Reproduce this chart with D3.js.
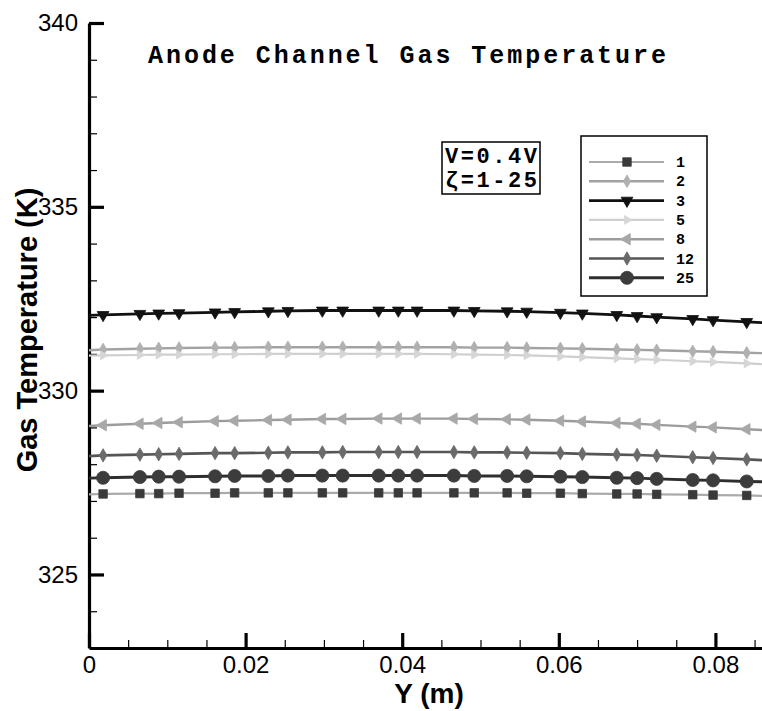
<!DOCTYPE html>
<html>
<head>
<meta charset="utf-8">
<script src="https://cdn.jsdelivr.net/npm/d3@7"></script>
<style>
  html, body { margin: 0; padding: 0; background: #fff; }
  svg { display: block; }
</style>
</head>
<body>
<svg id="chart" width="762" height="711"></svg>
<script>
// Distance along the anode channel, Y (m)
const channelY = [0, 0.0018, 0.0065, 0.0089, 0.0115, 0.0161, 0.0186, 0.0229, 0.0254, 0.0298,
  0.0324, 0.0370, 0.0395, 0.0419, 0.0466, 0.0492, 0.0534, 0.0559, 0.0602, 0.0630,
  0.0674, 0.0700, 0.0725, 0.0771, 0.0797, 0.0840, 0.0860];

// Gas temperature (K) for each stoichiometry ζ
const temp1 = [327.18, 327.19, 327.20, 327.20, 327.21, 327.21, 327.22, 327.22, 327.22, 327.22,
  327.22, 327.22, 327.22, 327.22, 327.22, 327.22, 327.22, 327.21, 327.21, 327.20,
  327.19, 327.19, 327.18, 327.17, 327.16, 327.15, 327.14];
const temp2 = [331.10, 331.12, 331.14, 331.15, 331.16, 331.17, 331.17, 331.18, 331.18, 331.18,
  331.18, 331.18, 331.18, 331.18, 331.18, 331.17, 331.17, 331.16, 331.15, 331.14,
  331.12, 331.11, 331.10, 331.07, 331.06, 331.03, 331.02];
const temp3 = [332.05, 332.06, 332.09, 332.10, 332.11, 332.13, 332.14, 332.16, 332.17, 332.18,
  332.18, 332.18, 332.18, 332.18, 332.18, 332.17, 332.16, 332.15, 332.12, 332.10,
  332.06, 332.03, 332.00, 331.95, 331.92, 331.87, 331.85];
const temp5 = [330.95, 330.96, 330.97, 330.98, 330.98, 330.99, 330.99, 331.00, 331.00, 331.00,
  331.00, 331.00, 331.00, 331.00, 330.99, 330.98, 330.97, 330.96, 330.93, 330.91,
  330.88, 330.86, 330.84, 330.80, 330.78, 330.74, 330.72];
const temp8 = [329.04, 329.06, 329.10, 329.12, 329.14, 329.17, 329.18, 329.20, 329.21, 329.23,
  329.23, 329.24, 329.24, 329.24, 329.24, 329.23, 329.22, 329.21, 329.18, 329.16,
  329.12, 329.10, 329.07, 329.02, 329.00, 328.95, 328.93];
const temp12 = [328.22, 328.24, 328.26, 328.27, 328.28, 328.30, 328.30, 328.31, 328.32, 328.32,
  328.33, 328.33, 328.33, 328.33, 328.33, 328.32, 328.32, 328.31, 328.30, 328.28,
  328.26, 328.25, 328.23, 328.19, 328.17, 328.13, 328.11];
const temp25 = [327.62, 327.63, 327.65, 327.66, 327.66, 327.67, 327.68, 327.68, 327.69, 327.69,
  327.69, 327.69, 327.69, 327.69, 327.69, 327.68, 327.68, 327.67, 327.66, 327.65,
  327.63, 327.62, 327.60, 327.57, 327.56, 327.53, 327.52];

const seriesLabels = ["1", "2", "3", "5", "8", "12", "25"];
const seriesTemps = [temp1, temp2, temp3, temp5, temp8, temp12, temp25];

const xMajorTicks = [0, 0.02, 0.04, 0.06, 0.08];
const xTickLabels = ["0", "0.02", "0.04", "0.06", "0.08"];
const yMajorTicks = [325, 330, 335, 340];
const yTickLabels = ["325", "330", "335", "340"];

const titleText = "Anode Channel Gas Temperature";
const xTitle = "Y (m)";
const yTitle = "Gas Temperature (K)";
const noteLines = ["V=0.4V", "ζ=1-25"];

// Line / marker appearance per series
const styles = {
  "1":  { line: "#ababab", width: 2.2, marker: d3.symbolSquare,   size: 72,  rot: 0,   fill: "#3a3a3a" },
  "2":  { line: "#a2a2a2", width: 2.4, marker: d3.symbolDiamond,  size: 46,  rot: 0,   fill: "#b0b0b0" },
  "3":  { line: "#111111", width: 2.8, marker: d3.symbolTriangle, size: 60,  rot: 180, fill: "#111111" },
  "5":  { line: "#cfcfcf", width: 2.2, marker: d3.symbolTriangle, size: 34,  rot: 90,  fill: "#d6d6d6" },
  "8":  { line: "#9c9c9c", width: 2.4, marker: d3.symbolTriangle, size: 56,  rot: -90, fill: "#a8a8a8" },
  "12": { line: "#555555", width: 2.6, marker: d3.symbolDiamond,  size: 52,  rot: 0,   fill: "#6a6a6a" },
  "25": { line: "#2e2e2e", width: 2.9, marker: d3.symbolCircle,   size: 135, rot: 0,   fill: "#3c3c3c" }
};

const svg = d3.select("#chart");

const x = d3.scaleLinear().domain([0, 0.086]).range([89, 762.4]);
const y = d3.scaleLinear().domain([323, 340]).range([648, 23]);

// Axes: ticks point inward, labels outside
const sansFont = "'Liberation Sans', Arial, sans-serif";
const monoFont = "'Liberation Mono', 'Courier New', monospace";

const yMinor = svg.append("g").attr("transform", `translate(${x(0)},0)`)
  .call(d3.axisLeft(y).tickValues(d3.range(324, 340, 1).filter(v => v % 5 !== 0))
    .tickSizeInner(-8).tickSizeOuter(0).tickFormat(""));
yMinor.select(".domain").remove();
yMinor.selectAll(".tick line").attr("stroke", "#000").attr("stroke-width", 1.2);

const xMinor = svg.append("g").attr("transform", `translate(0,${y(323)})`)
  .call(d3.axisBottom(x).tickValues(d3.range(0.005, 0.0861, 0.005).filter((v, i) => (i + 1) % 4 !== 0))
    .tickSizeInner(-8).tickSizeOuter(0).tickFormat(""));
xMinor.select(".domain").remove();
xMinor.selectAll(".tick line").attr("stroke", "#000").attr("stroke-width", 1.2);

const yAxis = svg.append("g").attr("transform", `translate(${x(0)},0)`)
  .call(d3.axisLeft(y).tickValues(yMajorTicks)
    .tickFormat((d, i) => yTickLabels[i])
    .tickSizeInner(-15).tickSizeOuter(0).tickPadding(11));
yAxis.select(".domain").attr("stroke", "#000").attr("stroke-width", 3.2);
yAxis.selectAll(".tick line").attr("stroke", "#000").attr("stroke-width", 3.2);
yAxis.selectAll(".tick text").attr("font-family", sansFont).attr("font-size", 24).attr("fill", "#000");

const xAxis = svg.append("g").attr("transform", `translate(0,${y(323)})`)
  .call(d3.axisBottom(x).tickValues(xMajorTicks)
    .tickFormat((d, i) => xTickLabels[i])
    .tickSizeInner(-15).tickSizeOuter(0).tickPadding(8));
xAxis.select(".domain").attr("stroke", "#000").attr("stroke-width", 3.2);
xAxis.selectAll(".tick line").attr("stroke", "#000").attr("stroke-width", 3.2);
xAxis.selectAll(".tick text").attr("font-family", sansFont).attr("font-size", 24).attr("fill", "#000");

// Axis titles
svg.append("text")
  .attr("x", 429).attr("y", 703)
  .attr("text-anchor", "middle")
  .attr("font-family", sansFont).attr("font-weight", "bold").attr("font-size", 28)
  .text(xTitle);

svg.append("text")
  .attr("transform", "translate(37,330) rotate(-90)")
  .attr("text-anchor", "middle")
  .attr("font-family", sansFont).attr("font-weight", "bold").attr("font-size", 29)
  .text(yTitle);

// Chart title
svg.append("text")
  .attr("x", 148).attr("y", 63)
  .attr("font-family", monoFont).attr("font-weight", "bold").attr("font-size", 25)
  .attr("textLength", 518).attr("lengthAdjust", "spacing")
  .text(titleText);

// Series lines and markers
const line = d3.line().x(d => x(d[0])).y(d => y(d[1]));
const plot = svg.append("g");

seriesLabels.forEach((name, si) => {
  const st = styles[name];
  const pts = channelY.map((v, i) => [v, seriesTemps[si][i]]);
  plot.append("path")
    .datum(pts)
    .attr("fill", "none")
    .attr("stroke", st.line)
    .attr("stroke-width", st.width)
    .attr("d", line);
  plot.selectAll(null)
    .data(pts.slice(1, -1))
    .enter().append("path")
    .attr("d", d3.symbol().type(st.marker).size(st.size))
    .attr("transform", d => `translate(${x(d[0])},${y(d[1])}) rotate(${st.rot})`)
    .attr("fill", st.fill)
    .attr("stroke", st.fill)
    .attr("stroke-width", 0.8);
});

// Operating-condition note
svg.append("rect")
  .attr("x", 442).attr("y", 142).attr("width", 98).attr("height", 52)
  .attr("fill", "#fff").attr("stroke", "#000").attr("stroke-width", 1.5);
noteLines.forEach((t, i) => {
  svg.append("text")
    .attr("x", 445).attr("y", 163 + i * 24)
    .attr("font-family", monoFont).attr("font-weight", "bold").attr("font-size", 22)
    .attr("textLength", 92).attr("lengthAdjust", "spacing")
    .text(t);
});

// Legend
const legend = svg.append("g");
legend.append("rect")
  .attr("x", 581).attr("y", 136).attr("width", 126).attr("height", 160)
  .attr("fill", "#fff").attr("stroke", "#000").attr("stroke-width", 1.5);

seriesLabels.forEach((name, i) => {
  const st = styles[name];
  const ly = 162 + i * 19.3;
  legend.append("line")
    .attr("x1", 589).attr("x2", 664).attr("y1", ly).attr("y2", ly)
    .attr("stroke", st.line).attr("stroke-width", st.width);
  legend.append("path")
    .attr("d", d3.symbol().type(st.marker).size(st.size))
    .attr("transform", `translate(627,${ly}) rotate(${st.rot})`)
    .attr("fill", st.fill).attr("stroke", st.fill).attr("stroke-width", 0.8);
  legend.append("text")
    .attr("x", 676).attr("y", ly + 5)
    .attr("font-family", monoFont).attr("font-weight", "bold").attr("font-size", 15)
    .text(name);
});
</script>
</body>
</html>
